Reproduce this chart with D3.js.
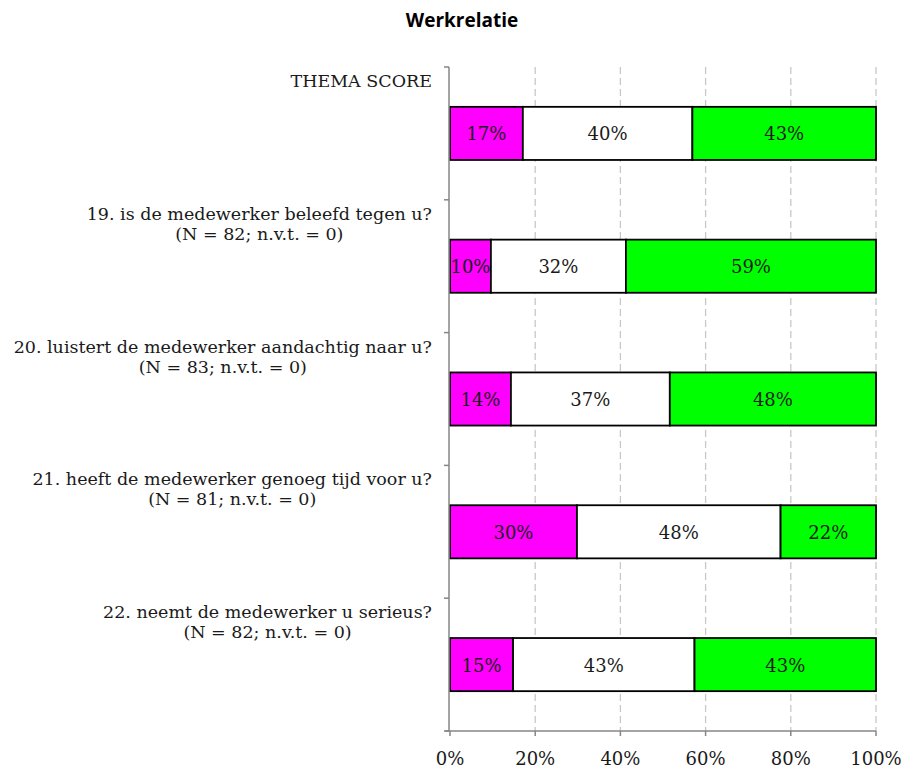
<!DOCTYPE html>
<html><head><meta charset="utf-8">
<script src="https://cdn.jsdelivr.net/npm/d3@7"></script>
<style>
body{margin:0;background:#fff;}
svg{display:block;}
</style></head>
<body>
<svg id="chart" width="908" height="769"></svg>
<script>
const title = "Werkrelatie";
const categories = [
  ["THEMA SCORE"],
  ["19. is de medewerker beleefd tegen u?", "(N = 82; n.v.t. = 0)"],
  ["20. luistert de medewerker aandachtig naar u?", "(N = 83; n.v.t. = 0)"],
  ["21. heeft de medewerker genoeg tijd voor u?", "(N = 81; n.v.t. = 0)"],
  ["22. neemt de medewerker u serieus?", "(N = 82; n.v.t. = 0)"]
];
const seriesNames = ["negatief", "neutraal", "positief"];
const seriesColors = ["#ff00ff", "#ffffff", "#00ff00"];
const negatief = [17.1, 9.6, 14.3, 29.8, 14.8];
const neutraal = [39.8, 31.7, 37.3, 47.8, 42.6];
const positief = [43.1, 58.7, 48.4, 22.4, 42.6];
const xTicks = [0, 20, 40, 60, 80, 100];

const svg = d3.select("#chart");
const margin = {left: 450, right: 32, top: 67, bottom: 38};
const W = 908, H = 769;

const x = d3.scaleLinear().domain([0, 100]).range([margin.left, W - margin.right]);
const y = d3.scaleBand().domain(d3.range(categories.length)).range([margin.top, H - margin.bottom]).paddingInner(0.6).paddingOuter(0.3);
const yb = d3.scaleBand().domain(d3.range(categories.length)).range([margin.top, H - margin.bottom]);

const serif = "'DejaVu Serif', 'Liberation Serif', serif";

// title
svg.append("text").attr("x", 462).attr("y", 27).attr("text-anchor", "middle")
  .style("font-family", "'Open Sans', sans-serif").style("font-weight", "bold").style("font-size", "19px")
  .text(title);

// gridlines
svg.append("g").selectAll("line").data(xTicks.filter(d => d > 0)).join("line")
  .attr("x1", d => x(d)).attr("x2", d => x(d))
  .attr("y1", margin.top).attr("y2", H - margin.bottom)
  .attr("stroke", "#c8c8c8").attr("stroke-width", 1.3).attr("stroke-dasharray", "7,4");

// stacked bars
const rows = categories.map((c, i) => ({i, vals: [negatief[i], neutraal[i], positief[i]]}));
const g = svg.append("g");
rows.forEach(r => {
  let cum = 0;
  r.vals.forEach((v, k) => {
    const x0 = x(cum), x1 = x(cum + v);
    g.append("rect").attr("x", x0).attr("y", y(r.i)).attr("width", x1 - x0).attr("height", y.bandwidth())
      .attr("fill", seriesColors[k]).attr("stroke", "#000").attr("stroke-width", 1.8);
    g.append("text").attr("x", (x0 + x1) / 2).attr("y", y(r.i) + y.bandwidth() / 2 + 7)
      .attr("text-anchor", "middle").style("font-family", serif).style("font-size", "18px")
      .attr("fill", "#1a1a1a")
      .text(Math.round(v) + "%");
    cum += v;
  });
});

// y axis
const ya = svg.append("g").attr("transform", `translate(${margin.left - 1},0)`);
ya.append("line").attr("y1", margin.top).attr("y2", H - margin.bottom).attr("stroke", "#868686").attr("stroke-width", 1.5);
ya.selectAll("line.t").data(d3.range(categories.length + 1)).join("line").attr("class", "t")
  .attr("x1", -5).attr("x2", 0)
  .attr("y1", d => d < categories.length ? yb(d) : H - margin.bottom)
  .attr("y2", d => d < categories.length ? yb(d) : H - margin.bottom)
  .attr("stroke", "#868686").attr("stroke-width", 1.5);

// category labels
categories.forEach((lines, i) => {
  const t = svg.append("text").attr("text-anchor", "middle")
    .style("font-family", serif).style("font-size", "17.5px").attr("fill", "#1a1a1a");
  lines.forEach((ln, j) => {
    t.append("tspan").attr("x", 0).attr("y", yb(i) + 20 + j * 20).text(ln);
  });
  const bb = t.node().getBBox();
  const cx = 432 - bb.width / 2;
  t.selectAll("tspan").attr("x", cx);
});

// x axis
const xa = svg.append("g").attr("transform", `translate(0,${H - margin.bottom})`);
xa.append("line").attr("x1", margin.left - 5).attr("x2", x(100)).attr("stroke", "#868686").attr("stroke-width", 1.5);
xa.selectAll("line.t").data(xTicks).join("line").attr("class", "t")
  .attr("x1", d => x(d)).attr("x2", d => x(d)).attr("y1", 0).attr("y2", 5)
  .attr("stroke", "#868686").attr("stroke-width", 1.5);
xa.selectAll("text").data(xTicks).join("text")
  .attr("x", d => x(d)).attr("y", 34).attr("text-anchor", "middle")
  .style("font-family", serif).style("font-size", "18px").attr("fill", "#1a1a1a").text(d => d + "%");
</script>
</body></html>
